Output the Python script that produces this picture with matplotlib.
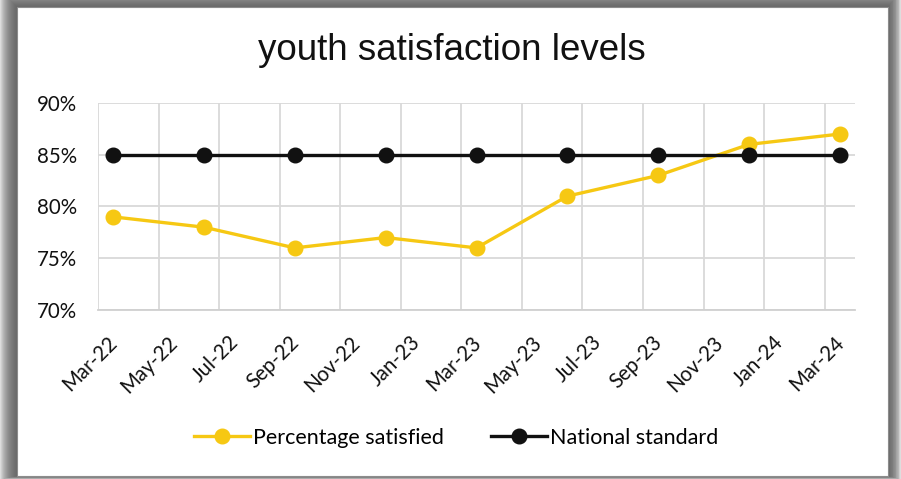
import pandas as pd
import matplotlib
matplotlib.use('Agg')
import matplotlib.pyplot as plt
from matplotlib.patches import Rectangle
from matplotlib.ticker import FixedLocator, PercentFormatter
from matplotlib.transforms import ScaledTranslation

# data (quarterly)
quarters = ['Mar-22', 'Jun-22', 'Sep-22', 'Dec-22', 'Mar-23', 'Jun-23', 'Sep-23', 'Dec-23', 'Mar-24']
satisfied = [79, 78, 76, 77, 76, 81, 83, 86, 87]
national = [85, 85, 85, 85, 85, 85, 85, 85, 85]
tick_labels = ['Mar-22', 'May-22', 'Jul-22', 'Sep-22', 'Nov-22', 'Jan-23', 'Mar-23',
               'May-23', 'Jul-23', 'Sep-23', 'Nov-23', 'Jan-24', 'Mar-24']


def month_index(labels):
    # months since Mar-22, each month is one slot on the date axis
    d = pd.to_datetime(labels, format='%b-%y')
    return [(t.year - 2022) * 12 + t.month - 3 for t in d]


x_pts = [m + 0.5 for m in month_index(quarters)]
x_ticks = month_index(tick_labels)

W, H = 901, 479
fig = plt.figure(figsize=(W / 100, H / 100), dpi=100)
fig.patch.set_facecolor('white')


def px(x0, y0, x1, y1):
    # pixel box (top-left origin) -> figure fraction rect
    return (x0 / W, 1 - y1 / H), (x1 - x0) / W, (y1 - y0) / H


# drop shadow frame around the chart area
pl, pt, pr, pb = 17, 7, 888, 476
for i in range(18, 0, -1):
    xy, w, h = px(pl - i, pt - i, pr + i * 0.75, pb + i * 0.2)
    fig.patches.append(Rectangle(xy, w, h, transform=fig.transFigure, zorder=0,
                                 facecolor='#555555', alpha=0.1, edgecolor='none'))
xy, w, h = px(pl, pt, pr, pb)
fig.patches.append(Rectangle(xy, w, h, transform=fig.transFigure, zorder=0,
                             facecolor='white', edgecolor='#8c8c8c', linewidth=0.8))

xy, w, h = px(98, 103, 855, 310)
ax = fig.add_axes([xy[0], xy[1], w, h])
ax.set_zorder(2)
ax.set_facecolor('none')

ax.plot(x_pts, satisfied, color='#F6C813', lw=2.4, marker='o', ms=10.5,
        label='Percentage satisfied', zorder=3)
ax.plot(x_pts, national, color='#111111', lw=2.4, marker='o', ms=10.5,
        label='National standard', zorder=4)

ax.set_xlim(0, 25)
ax.set_ylim(70, 90)
ax.yaxis.set_major_locator(FixedLocator([70, 75, 80, 85, 90]))
ax.yaxis.set_major_formatter(PercentFormatter(decimals=0))
ax.set_xticks([m + 0.5 for m in x_ticks])
ax.set_xticklabels(tick_labels, rotation=45, ha='right', rotation_mode='anchor')
ax.xaxis.set_minor_locator(FixedLocator(x_ticks))

ax.grid(True, axis='y', which='major', color='#d9d9d9', lw=1.3)
ax.grid(True, axis='x', which='minor', color='#d9d9d9', lw=1.3)
ax.set_axisbelow(True)
for s in ['top', 'right', 'left']:
    ax.spines[s].set_visible(False)
ax.spines['bottom'].set_color('#d0d0d0')
ax.spines['bottom'].set_linewidth(1.3)

font = ['Lato', 'DejaVu Sans']
ax.tick_params(axis='both', which='both', length=0, labelsize=14.8, labelcolor='#111111')
ax.tick_params(axis='y', pad=15)
ax.tick_params(axis='x', pad=16)
for lab in ax.get_xticklabels() + ax.get_yticklabels():
    lab.set_family(font)
shift = ScaledTranslation(-6 / 100, 0, fig.dpi_scale_trans)
for lab in ax.get_xticklabels():
    lab.set_transform(lab.get_transform() + shift)

fig.text(452 / W, 1 - 50 / H, 'youth satisfaction levels', ha='center', va='center',
         fontsize=26.5, family='Liberation Sans', color='#111111')

fig.legend(loc='center', bbox_to_anchor=(456 / W, 1 - 438 / H), ncol=2, frameon=False,
           prop={'family': font, 'size': 15.5}, handlelength=2.6, handletextpad=0.15,
           columnspacing=2.2)

fig.savefig('out.png', dpi=100)
